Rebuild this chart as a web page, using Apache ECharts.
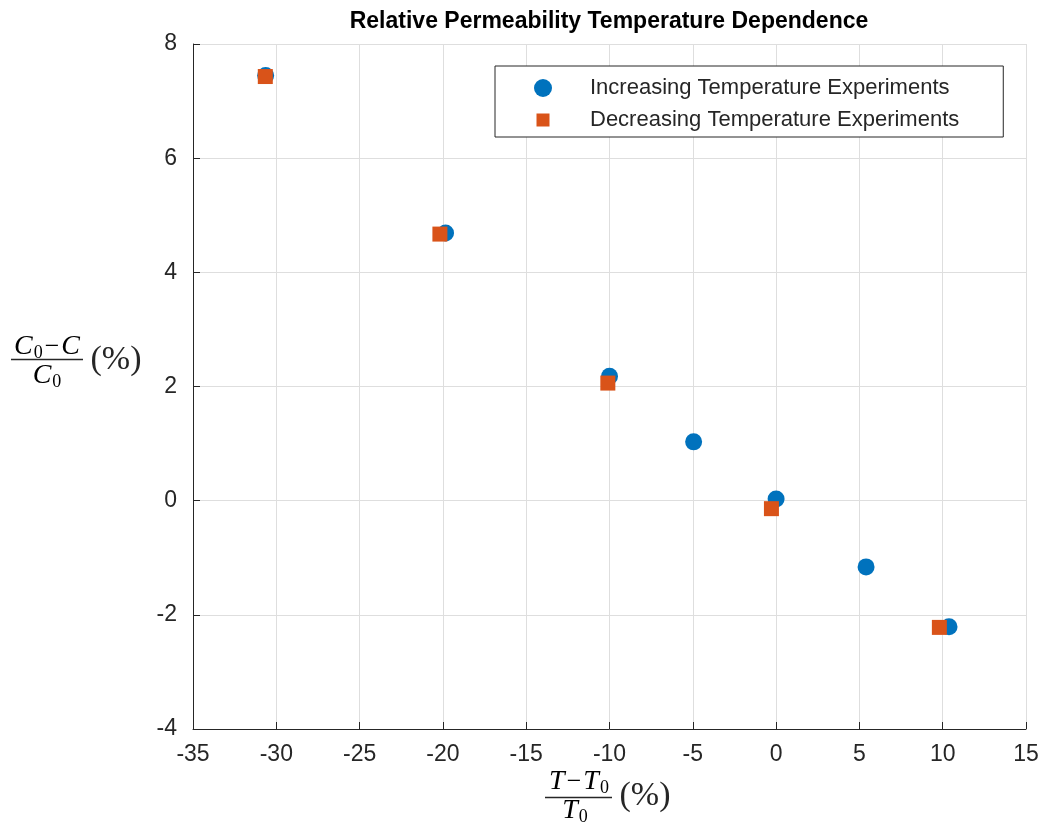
<!DOCTYPE html>
<html>
<head>
<meta charset="utf-8">
<script src="https://cdn.jsdelivr.net/npm/echarts@6/dist/echarts.min.js"></script>
<style>
 html,body{margin:0;padding:0;background:#fff;}
 #main{width:1043px;height:823px;}
</style>
</head>
<body>
<div id="main"></div>
<script>
// data
var incX=[-30.64,-19.84,-10.0,-4.95,0.0,5.4,10.38];
var incY=[7.45,4.69,2.18,1.03,0.03,-1.16,-2.21];
var decX=[-30.66,-20.18,-10.1,-0.28,9.8];
var decY=[7.43,4.67,2.06,-0.14,-2.22];
var seriesNames=['Increasing Temperature Experiments','Decreasing Temperature Experiments'];
var xTicks=[-35,15,5]; // min,max,step
var yTicks=[-4,8,2];

function pairs(xs,ys){
  var out=[];
  for(var i=0;i<xs.length;i++){ out.push([xs[i],ys[i]]); }
  return out;
}

var ink='#262626';
var sans='"Liberation Sans", Arial, sans-serif';
var serif='"Liberation Serif", "DejaVu Serif", serif';
// rich styles for the latex-ish axis names
var mathRich={
  i:{fontFamily:serif,fontStyle:'italic',fontSize:28,color:ink,lineHeight:30},
  s:{fontFamily:serif,fontSize:18,color:ink,lineHeight:21,verticalAlign:'bottom',padding:[0,0,0,1]},
  m:{fontFamily:serif,fontSize:26,color:ink,lineHeight:30,padding:[0,2,0,2]}
};

var chart=echarts.init(document.getElementById('main'));
var option={
  animation:false,
  backgroundColor:'#fff',
  title:{
    text:'Relative Permeability Temperature Dependence',
    left:604,
    top:5,
    textAlign:'center',
    textStyle:{fontFamily:sans,fontWeight:'bold',fontSize:23,color:'#000'}
  },
  legend:{
    orient:'vertical',
    left:495,
    top:66,
    padding:[11,44,6,39],
    itemGap:10,
    itemWidth:18,
    itemHeight:18,
    borderColor:ink,
    borderWidth:1,
    backgroundColor:'#fff',
    textStyle:{fontFamily:sans,fontSize:22,color:ink,padding:[0,0,0,33]},
    data:[
      {name:seriesNames[0],icon:'circle'},
      {name:seriesNames[1],icon:'path://M0,0M18,18M2.5,2.5h13v13h-13z'}
    ]
  },
  grid:{left:193,right:17,top:44,bottom:94},
  xAxis:{
    type:'value',
    min:xTicks[0],max:xTicks[1],interval:xTicks[2],
    axisLine:{onZero:false,lineStyle:{color:ink,width:1}},
    axisTick:{inside:true,length:7,lineStyle:{color:ink}},
    axisLabel:{color:ink,fontFamily:sans,fontSize:23,margin:14},
    splitLine:{show:true,lineStyle:{color:'#dedede',width:1}}
  },
  yAxis:{
    type:'value',
    min:yTicks[0],max:yTicks[1],interval:yTicks[2],
    axisLine:{show:true,onZero:false,lineStyle:{color:ink,width:1}},
    axisTick:{show:true,inside:true,length:7,lineStyle:{color:ink}},
    axisLabel:{color:ink,fontFamily:sans,fontSize:23,margin:16},
    splitLine:{show:true,lineStyle:{color:'#dedede',width:1}}
  },
  graphic:[
    // y axis name: (C0 - C)/C0 (%)
    {type:'text',x:47,y:347,style:{text:'{i|C}{s|0}{m|−}{i|C}',rich:mathRich,align:'center',verticalAlign:'middle'}},
    {type:'line',shape:{x1:11,y1:359.5,x2:83,y2:359.5},style:{stroke:ink,lineWidth:1.3}},
    {type:'text',x:47,y:376,style:{text:'{i|C}{s|0}',rich:mathRich,align:'center',verticalAlign:'middle'}},
    {type:'text',x:116,y:360,style:{text:'(%)',fill:ink,font:'34px '+serif,align:'center',verticalAlign:'middle'}},
    // x axis name: (T - T0)/T0 (%)
    {type:'text',x:579,y:782,style:{text:'{i|T}{m|−}{i|T}{s|0}',rich:mathRich,align:'center',verticalAlign:'middle'}},
    {type:'line',shape:{x1:545,y1:797.5,x2:612,y2:797.5},style:{stroke:ink,lineWidth:1.3}},
    {type:'text',x:575,y:811,style:{text:'{i|T}{s|0}',rich:mathRich,align:'center',verticalAlign:'middle'}},
    {type:'text',x:645,y:796,style:{text:'(%)',fill:ink,font:'34px '+serif,align:'center',verticalAlign:'middle'}}
  ],
  series:[
    {
      name:seriesNames[0],
      type:'scatter',
      symbol:'circle',
      symbolSize:17,
      itemStyle:{color:'#0072BD',opacity:1},
      data:pairs(incX,incY),
      z:2
    },
    {
      name:seriesNames[1],
      type:'scatter',
      symbol:'rect',
      symbolSize:15,
      itemStyle:{color:'#D95319',opacity:1},
      data:pairs(decX,decY),
      z:3
    }
  ]
};
chart.setOption(option);
</script>
</body>
</html>
